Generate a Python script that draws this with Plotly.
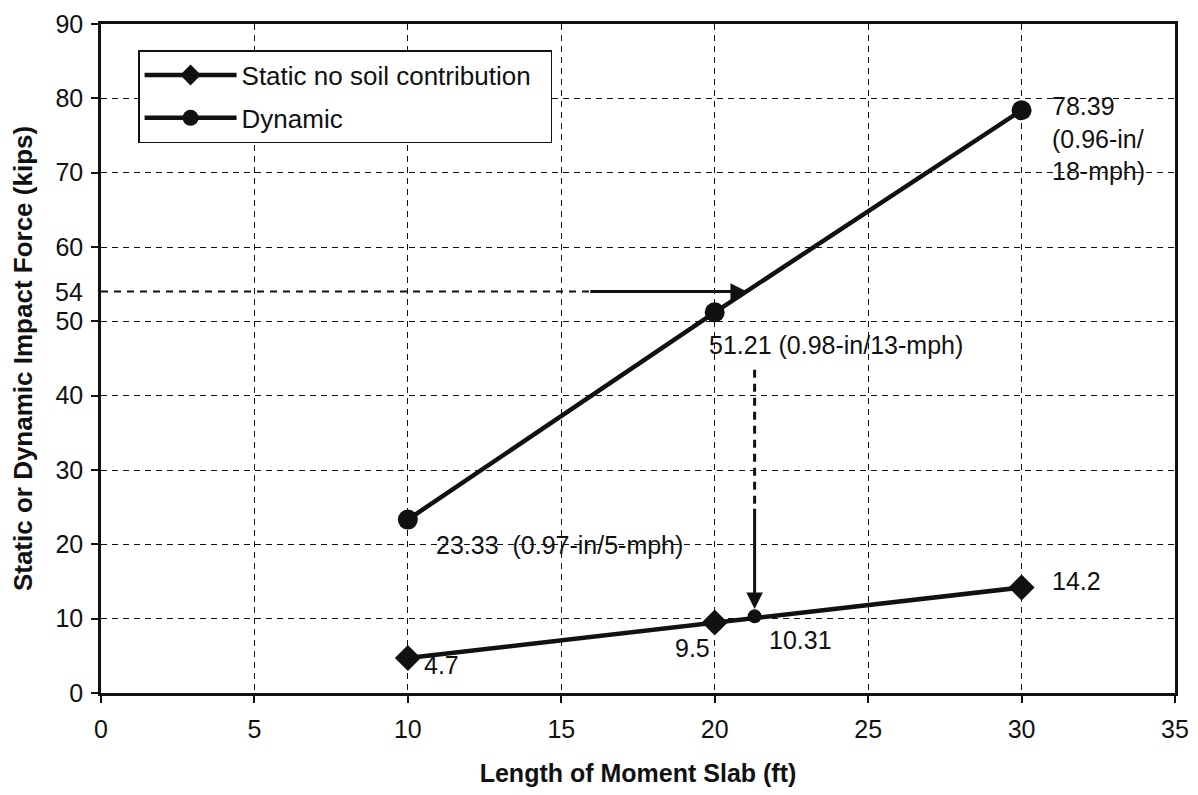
import plotly.graph_objects as go

# data
slab_length = [10, 20, 30]
static_force = [4.7, 9.5, 14.2]
dynamic_force = [23.33, 51.21, 78.39]

static_labels = ["4.7", "9.5", "14.2"]
dynamic_labels = [
    "23.33  (0.97-in/5-mph)",
    "51.21 (0.98-in/13-mph)",
    "78.39<br>(0.96-in/<br>18-mph)",
]

design_force = 54
design_length = 21.3
design_static = 10.31

# where the guide lines/arrows start
h_dash_end = 15.9
v_dash_top = 43.5
v_dash_end = 25

x_ticks = [0, 5, 10, 15, 20, 25, 30, 35]
y_ticks = [0, 10, 20, 30, 40, 50, 60, 70, 80, 90]

FONT = "Liberation Sans, Arial, sans-serif"
BLACK = "#111111"
TXT = 25

fig = go.Figure()

fig.add_trace(
    go.Scatter(
        x=slab_length,
        y=static_force,
        mode="lines+markers",
        name="Static no soil contribution&nbsp;&nbsp;",
        legendgroup="static",
        line=dict(color=BLACK, width=4.5),
        marker=dict(symbol="diamond", size=20, color=BLACK),
    )
)
fig.add_trace(
    go.Scatter(
        x=slab_length,
        y=dynamic_force,
        mode="lines+markers",
        name="Dynamic",
        legendgroup="dynamic",
        line=dict(color=BLACK, width=4.5),
        marker=dict(symbol="circle", size=20, color=BLACK),
    )
)
# interpolated static value at design length
fig.add_trace(
    go.Scatter(
        x=[design_length],
        y=[design_static],
        mode="markers",
        marker=dict(symbol="circle", size=14, color=BLACK),
        showlegend=False,
    )
)

# dashed leader lines
fig.add_shape(type="line", xref="x", yref="y", x0=0, x1=h_dash_end, y0=design_force, y1=design_force,
              line=dict(color=BLACK, width=2, dash="7px,6px"))
fig.add_shape(type="line", xref="x", yref="y", x0=design_length, x1=design_length, y0=v_dash_top, y1=v_dash_end,
              line=dict(color=BLACK, width=3, dash="8px,6px"))

# arrows
fig.add_annotation(x=21.05, y=design_force, ax=h_dash_end, ay=design_force, xref="x", yref="y",
                   axref="x", ayref="y", text="", showarrow=True, arrowhead=2, arrowsize=1.1,
                   arrowwidth=3, arrowcolor=BLACK)
fig.add_annotation(x=design_length, y=design_static + 1.0, ax=design_length, ay=v_dash_end, xref="x", yref="y",
                   axref="x", ayref="y", text="", showarrow=True, arrowhead=2, arrowsize=1.1,
                   arrowwidth=3, arrowcolor=BLACK)

label_font = dict(family=FONT, size=TXT, color=BLACK)


def label(x, y, text, dx, dy, anchor="left"):
    fig.add_annotation(x=x, y=y, text=text, showarrow=False, xanchor=anchor, yanchor="middle",
                       xshift=dx, yshift=dy, align="left", font=label_font)


# dynamic labels
label(slab_length[0], dynamic_force[0], dynamic_labels[0], 26, -25)
label(slab_length[1], dynamic_force[1], dynamic_labels[1], -8, -33)
fig.add_annotation(x=slab_length[2], y=dynamic_force[2], text=dynamic_labels[2], showarrow=False,
                   xanchor="left", yanchor="top", xshift=28, yshift=20, align="left", font=label_font)

# static labels
label(slab_length[0], static_force[0], static_labels[0], 14, -7)
label(slab_length[1], static_force[1], static_labels[1], -3, -26, anchor="right")
label(slab_length[2], static_force[2], static_labels[2], 28, 6)
label(design_length, design_static, f"{design_static}", 12, -24)

# extra tick label for design force
fig.add_annotation(x=0, y=design_force, xref="paper", yref="y", text=str(design_force), showarrow=False,
                   xanchor="right", yanchor="middle", xshift=-16, font=label_font)

axis_common = dict(
    showline=True,
    linecolor=BLACK,
    linewidth=2.5,
    mirror=True,
    ticks="outside",
    ticklen=7,
    tickwidth=1.5,
    tickcolor=BLACK,
    showgrid=True,
    gridcolor=BLACK,
    gridwidth=1,
    griddash="6px,5px",
    zeroline=False,
    automargin=False,
    tickfont=dict(family=FONT, size=TXT, color=BLACK),
)

fig.update_xaxes(
    range=[0, 35],
    tickvals=x_ticks,
    ticklabelstandoff=5,
    title=dict(text="<b>Length of Moment Slab (ft)</b>", font=dict(family=FONT, size=25, color=BLACK),
               standoff=24),
    **axis_common,
)
fig.update_yaxes(
    range=[0, 90],
    tickvals=y_ticks,
    ticklabelstandoff=3,
    title=dict(text="<b>Static or Dynamic Impact Force (kips)</b>", font=dict(family=FONT, size=26, color=BLACK),
               standoff=20),
    **axis_common,
)

fig.update_layout(
    width=1182,
    height=779,
    margin=dict(l=93, r=15, t=16, b=94),
    paper_bgcolor="white",
    plot_bgcolor="white",
    font=dict(family=FONT, color=BLACK),
    showlegend=True,
    legend=dict(
        x=0.0345,
        y=0.961,
        xanchor="left",
        yanchor="top",
        bgcolor="white",
        bordercolor=BLACK,
        borderwidth=1.5,
        font=dict(family=FONT, size=26, color=BLACK),
        itemwidth=92,
        traceorder="grouped",
        tracegroupgap=6,
    ),
)

fig.write_html("out.html")
